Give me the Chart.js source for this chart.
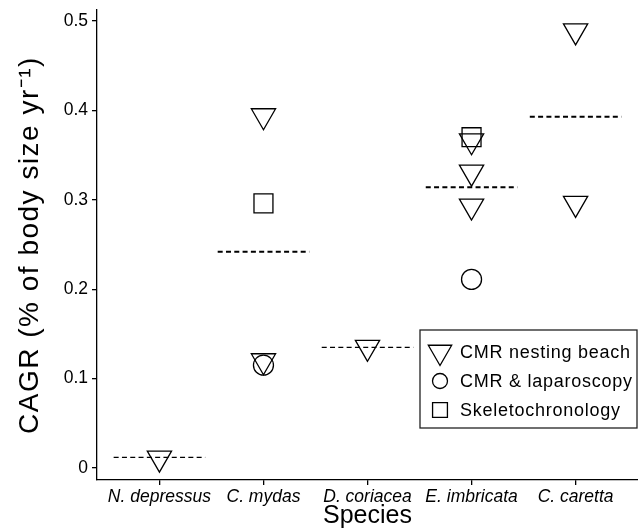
<!DOCTYPE html>
<html>
<head>
<meta charset="utf-8">
<script src="https://cdn.jsdelivr.net/npm/chart.js@4.4.1/dist/chart.umd.min.js"></script>
<style>
  html, body { margin: 0; padding: 0; background: #fff; overflow: hidden; }
  #wrap { position: relative; width: 638px; height: 532px; }
  #chart { display: block; }
</style>
</head>
<body>
<div id="wrap"><canvas id="chart"></canvas></div>
<script>
// species along x, positions 1..5
var species = ["N. depressus", "C. mydas", "D. coriacea", "E. imbricata", "C. caretta"];
var yTicks = [0, 0.1, 0.2, 0.3, 0.4, 0.5];
var yTitle = 'CAGR (% of body size yr\u207B\u00B9)';

// CMR nesting beach (triangles)
var nestingX = [1, 2, 2, 3, 4, 4, 4, 5, 5];
var nestingY = [0.011, 0.394, 0.120, 0.135, 0.366, 0.331, 0.293, 0.489, 0.296];

// CMR & laparoscopy (circles)
var laparoX = [2, 4];
var laparoY = [0.115, 0.211];

// Skeletochronology (squares)
var skeletoX = [2, 4];
var skeletoY = [0.296, 0.370];

// species mean (dashed lines)
var meanY = [0.012, 0.242, 0.135, 0.314, 0.393];
var meanN = [1, 4, 1, 5, 2];

var legendLabels = ["CMR nesting beach", "CMR & laparoscopy", "Skeletochronology"];

var font = "'Liberation Sans', Arial, Helvetica, sans-serif";

function toPoints(xs, ys) {
    let pts = [];
    for (let i = 0; i < xs.length; i++) {
        pts.push({ x: xs[i], y: ys[i] });
    }
    return pts;
}

let datasets = [];

for (let i = 0; i < species.length; i++) {
    datasets.push({
        type: 'line',
        label: 'mean ' + species[i],
        data: [{ x: i + 1 - 0.44, y: meanY[i] }, { x: i + 1 + 0.44, y: meanY[i] }],
        borderColor: '#000',
        borderWidth: meanN[i] > 1 ? 2 : 1.2,
        borderDash: [5, 3.3],
        pointRadius: 0,
        fill: false
    });
}

let markerBase = {
    type: 'scatter',
    borderColor: '#000',
    backgroundColor: 'rgba(0,0,0,0)',
    pointBorderWidth: 1.3
};

datasets.push(Object.assign({}, markerBase, {
    label: legendLabels[0],
    data: toPoints(nestingX, nestingY),
    pointStyle: 'triangle',
    rotation: 180,
    pointRadius: 14
}));
datasets.push(Object.assign({}, markerBase, {
    label: legendLabels[1],
    data: toPoints(laparoX, laparoY),
    pointStyle: 'circle',
    pointRadius: 10
}));
datasets.push(Object.assign({}, markerBase, {
    label: legendLabels[2],
    data: toPoints(skeletoX, skeletoY),
    pointStyle: 'rect',
    pointRadius: 13.4
}));

// y title (wide letter spacing) and legend box inside the plot
var extras = {
    id: 'extras',
    afterDraw: function (chart) {
        let ctx = chart.ctx;
        let area = chart.chartArea;

        ctx.save();
        ctx.translate(30, (area.top + area.bottom) / 2);
        ctx.rotate(-Math.PI / 2);
        ctx.font = '28px ' + font;
        ctx.letterSpacing = '1.5px';
        ctx.fillStyle = '#000';
        ctx.textAlign = 'center';
        ctx.textBaseline = 'middle';
        ctx.fillText(yTitle, 0, 0);
        ctx.restore();

        let left = area.right - 218;
        let top = area.bottom - 150;
        let w = 217, h = 98;
        ctx.save();
        ctx.fillStyle = '#fff';
        ctx.fillRect(left, top, w, h);
        ctx.strokeStyle = '#222';
        ctx.lineWidth = 1.3;
        ctx.strokeRect(left, top, w, h);

        let styles = [
            { pointStyle: 'triangle', rotation: 180, radius: 13.5 },
            { pointStyle: 'circle', rotation: 0, radius: 7.5 },
            { pointStyle: 'rect', rotation: 0, radius: 10.5 }
        ];
        ctx.font = '18px ' + font;
        ctx.letterSpacing = '0.75px';
        ctx.textBaseline = 'middle';
        ctx.textAlign = 'left';
        for (let i = 0; i < legendLabels.length; i++) {
            let cy = top + 22 + i * 29;
            let cx = left + 20;
            ctx.strokeStyle = '#000';
            ctx.fillStyle = 'rgba(0,0,0,0)';
            ctx.lineWidth = 1.3;
            Chart.helpers.drawPoint(ctx, {
                pointStyle: styles[i].pointStyle,
                rotation: styles[i].rotation,
                radius: styles[i].radius,
                borderWidth: 1.3
            }, cx, cy);
            ctx.fillStyle = '#000';
            ctx.fillText(legendLabels[i], left + 40, cy + 1);
        }
        ctx.restore();
    }
};

var chart = new Chart(document.getElementById('chart').getContext('2d'), {
    type: 'scatter',
    data: { datasets: datasets },
    plugins: [extras],
    options: {
        responsive: true,
        maintainAspectRatio: false,
        animation: false,
        layout: { autoPadding: false, padding: { top: 10, right: 0, left: 0, bottom: 0 } },
        plugins: {
            legend: { display: false },
            tooltip: { enabled: false }
        },
        scales: {
            x: {
                type: 'linear',
                min: 0.4,
                max: 5.6,
                afterBuildTicks: function (scale) {
                    scale.ticks = species.map(function (s, i) { return { value: i + 1 }; });
                },
                afterFit: function (scale) {
                    scale.height = 52;
                    scale.paddingLeft = 0;
                    scale.paddingRight = 0;
                },
                border: { display: true, color: '#000', width: 1.3 },
                grid: { drawOnChartArea: false, drawTicks: true, tickLength: 5, color: '#000', lineWidth: 1.3 },
                ticks: {
                    color: '#000',
                    padding: 2,
                    maxRotation: 0,
                    autoSkip: false,
                    font: { family: font, size: 17.5, style: 'italic' },
                    callback: function (value) { return species[Math.round(value) - 1]; }
                },
                title: {
                    display: true,
                    text: 'Species',
                    color: '#000',
                    padding: { top: 0, bottom: 1 },
                    font: { family: font, size: 25 }
                }
            },
            y: {
                min: -0.0134,
                max: 0.5123,
                afterBuildTicks: function (scale) {
                    scale.ticks = yTicks.map(function (v) { return { value: v }; });
                },
                afterFit: function (scale) {
                    scale.width = 97;
                    scale.paddingTop = 0;
                    scale.paddingBottom = 0;
                },
                border: { display: true, color: '#000', width: 1.3 },
                grid: { drawOnChartArea: false, drawTicks: true, tickLength: 5, color: '#000', lineWidth: 1.3 },
                ticks: {
                    color: '#000',
                    padding: 4,
                    font: { family: font, size: 17.5 },
                    callback: function (value) { return value === 0 ? '0' : value.toFixed(1); }
                },
                title: { display: false }
            }
        }
    }
});
</script>
</body>
</html>
